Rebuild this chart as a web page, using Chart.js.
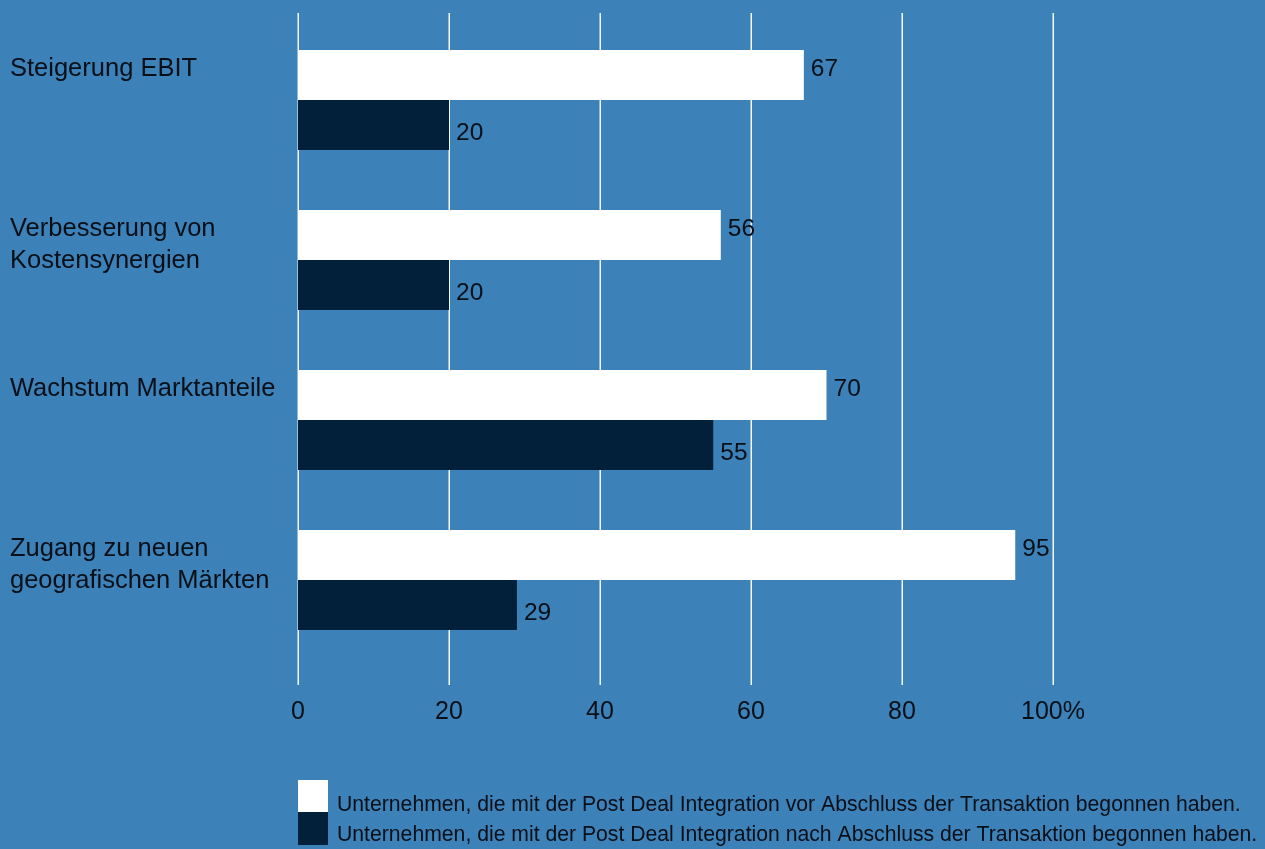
<!DOCTYPE html>
<html lang="de">
<head>
<meta charset="utf-8">
<script src="https://cdn.jsdelivr.net/npm/chart.js@4"></script>
<style>
  html, body { margin: 0; padding: 0; background: #3c82b9; }
  #wrap { width: 1265px; height: 849px; position: relative; }
</style>
</head>
<body>
<div id="wrap"><canvas id="chart" width="1265" height="849"></canvas></div>
<script>
// Daten
const kategorien = [
    ['Steigerung EBIT'],
    ['Verbesserung von', 'Kostensynergien'],
    ['Wachstum Marktanteile'],
    ['Zugang zu neuen', 'geografischen Märkten']
];
const vorAbschluss = [67, 56, 70, 95];
const nachAbschluss = [20, 20, 55, 29];
const serienNamen = [
    'Unternehmen, die mit der Post Deal Integration vor Abschluss der Transaktion begonnen haben.',
    'Unternehmen, die mit der Post Deal Integration nach Abschluss der Transaktion begonnen haben.'
];
const xTicks = [0, 20, 40, 60, 80, 100];

const schrift = '"Liberation Sans", Arial, Helvetica, sans-serif';
const textFarbe = '#0a0f17';
const weiss = '#ffffff';
const dunkel = '#03203a';

// Gitterlinien etwas über den Plotbereich hinaus
const gitterPlugin = {
    id: 'gitter',
    beforeDatasetsDraw(chart) {
        const ctx = chart.ctx;
        const x = chart.scales.x;
        ctx.save();
        ctx.strokeStyle = 'rgba(255,255,255,0.95)';
        ctx.lineWidth = 1.5;
        xTicks.forEach(v => {
            const px = Math.round(x.getPixelForValue(v)) + 0.25;
            ctx.beginPath();
            ctx.moveTo(px, 13);
            ctx.lineTo(px, 685);
            ctx.stroke();
        });
        ctx.restore();
    }
};

// Kategorienamen links und Werte neben den Balken
const beschriftungPlugin = {
    id: 'beschriftung',
    afterDatasetsDraw(chart) {
        const ctx = chart.ctx;
        const y = chart.scales.y;
        ctx.save();
        ctx.fillStyle = textFarbe;
        ctx.textBaseline = 'middle';
        ctx.textAlign = 'left';
        ctx.font = '25.5px ' + schrift;
        kategorien.forEach((zeilen, i) => {
            const cy = y.getPixelForValue(i) - 31;
            zeilen.forEach((z, j) => ctx.fillText(z, 10, cy + j * 32));
        });
        ctx.font = '24.5px ' + schrift;
        chart.data.datasets.forEach((ds, di) => {
            const meta = chart.getDatasetMeta(di);
            meta.data.forEach((el, i) => {
                const dy = di === 0 ? -6 : 8;
                ctx.fillText(String(ds.data[i]), el.x + 7, el.y + dy);
            });
        });
        ctx.restore();
    }
};

// Legende unten
const legendePlugin = {
    id: 'legende',
    afterDraw(chart) {
        const ctx = chart.ctx;
        ctx.save();
        ctx.font = '21.2px ' + schrift;
        ctx.textBaseline = 'middle';
        ctx.fillStyle = weiss;
        ctx.fillRect(298, 780, 30, 32);
        ctx.fillStyle = dunkel;
        ctx.fillRect(298, 812, 30, 33);
        ctx.fillStyle = textFarbe;
        ctx.fillText(chart.data.datasets[0].label, 337, 805);
        ctx.fillText(chart.data.datasets[1].label, 337, 835);
        ctx.restore();
    }
};

new Chart(document.getElementById('chart').getContext('2d'), {
    type: 'bar',
    data: {
        labels: kategorien,
        datasets: [{
            label: serienNamen[0],
            data: vorAbschluss,
            backgroundColor: weiss,
            borderWidth: 0,
            barPercentage: 1,
            categoryPercentage: 0.625
        }, {
            label: serienNamen[1],
            data: nachAbschluss,
            backgroundColor: dunkel,
            borderWidth: 0,
            barPercentage: 1,
            categoryPercentage: 0.625
        }]
    },
    options: {
        indexAxis: 'y',
        responsive: false,
        animation: false,
        layout: {
            padding: { left: 298, right: 212, top: 20, bottom: 129 }
        },
        scales: {
            x: {
                min: 0,
                max: 100,
                afterBuildTicks(scale) {
                    scale.ticks = xTicks.map(v => ({ value: v }));
                },
                afterFit(scale) { scale.height = 60; },
                grid: { display: false, drawTicks: false },
                border: { display: false },
                ticks: {
                    color: textFarbe,
                    font: { family: schrift, size: 25 },
                    padding: 37,
                    maxRotation: 0,
                    callback: v => v === 100 ? '100%' : String(v)
                }
            },
            y: {
                display: false
            }
        },
        plugins: {
            legend: { display: false },
            tooltip: { enabled: false }
        }
    },
    plugins: [gitterPlugin, beschriftungPlugin, legendePlugin]
});
</script>
</body>
</html>
